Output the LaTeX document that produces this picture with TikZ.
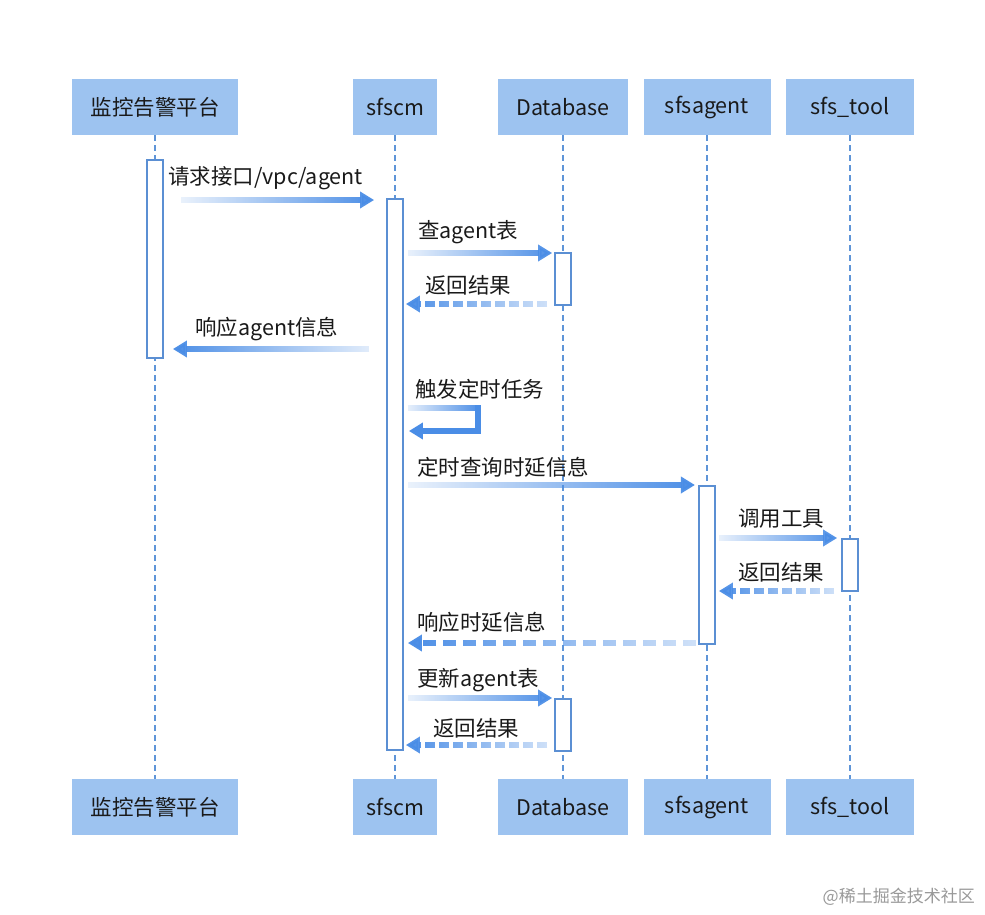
\documentclass[tikz,border=0pt]{standalone}
\usepackage{fontspec}
\setmainfont{Noto Sans CJK SC}
\usetikzlibrary{arrows.meta,fadings,positioning}

\definecolor{boxblue}{HTML}{9DC3F0}
\definecolor{barblue}{HTML}{5B8FD3}
\definecolor{lifeblue}{HTML}{5F95D8}
\definecolor{msgblue}{HTML}{4A8DE6}
\definecolor{textdark}{HTML}{1A1A1A}

\tikzfading[name=fadetoeast, left color=transparent!90, right color=transparent!0]
\tikzfading[name=fadetowest, left color=transparent!0, right color=transparent!85]
\tikzfading[name=fadeback, left color=transparent!0, right color=transparent!75]

% message with some vertical room for the fading
\newcommand{\sendmsg}[3]{%
  \draw[#1] ([yshift=-9pt]#2) ([yshift=9pt]#2) (#2) -- (#3);}

\begin{document}
\begin{tikzpicture}[x=1pt, y=-1pt,
    actor/.style={rectangle, fill=boxblue, minimum height=56pt, inner sep=0pt, text=textdark, font=\fontsize{21.5}{25}\selectfont},
    bar/.style={rectangle, draw=barblue, line width=1.8pt, fill=white, minimum width=16pt, inner sep=0pt, anchor=north},
    life/.style={draw=lifeblue, line width=1.4pt, dash pattern=on 6pt off 4pt},
    msg/.style={draw=msgblue, line width=6pt, -{Triangle[length=14pt,width=16pt]}},
    fwd/.style={msg, path fading=fadetoeast},
    bwd/.style={msg, path fading=fadetowest},
    ret/.style={msg, path fading=fadeback, line width=6.5pt, dash pattern=on 10pt off 4pt},
    lbl/.style={anchor=west, inner sep=0pt, text=textdark, font=\fontsize{21.5}{25}\selectfont},
    ]
    \useasboundingbox[fill=white] (0,0) rectangle (985,915);

    %Actors
    \node[actor, minimum width=166pt] (alarm) at (155,107) {监控告警平台};
    \node[actor, minimum width=84pt]  (sfscm) at (395,107) {sfscm};
    \node[actor, minimum width=130pt] (db)    at (563,107) {Database};
    \node[actor, minimum width=127pt] (agent) at (707,107) {sfsagent};
    \node[actor, minimum width=128pt] (tool)  at (850,107) {sfs\_tool};

    \node[actor, minimum width=166pt] (alarm-b) at (155,807) {监控告警平台};
    \node[actor, minimum width=84pt]  (sfscm-b) at (395,807) {sfscm};
    \node[actor, minimum width=130pt] (db-b)    at (563,807) {Database};
    \node[actor, minimum width=127pt] (agent-b) at (707,807) {sfsagent};
    \node[actor, minimum width=128pt] (tool-b)  at (850,807) {sfs\_tool};

    %Lifelines
    \foreach \a in {alarm,sfscm,db,agent,tool}
        \draw[life] (\a.south) -- (\a-b.north);

    %Activations
    \node[bar, minimum height=198pt] (barA)  at (155,159) {};
    \node[bar, minimum height=551pt] (barB)  at (395,198) {};
    \node[bar, minimum height=52pt]  (barC1) at (563,252) {};
    \node[bar, minimum height=52pt]  (barC2) at (563,698) {};
    \node[bar, minimum height=158pt] (barD)  at (707,485) {};
    \node[bar, minimum height=52pt]  (barE)  at (850,538) {};

    %Message ends
    \coordinate (m1s)  at ([xshift=17pt]barA.east |- 0,200);
    \coordinate (m1e)  at ([xshift=-12pt]barB.west |- 0,200);
    \coordinate (m2s)  at ([xshift=4pt]barB.east |- 0,253);
    \coordinate (m2e)  at ([xshift=-2pt]barC1.west |- 0,253);
    \coordinate (m3s)  at ([xshift=-7pt]barC1.west |- 0,304);
    \coordinate (m3e)  at ([xshift=2pt]barB.east |- 0,304);
    \coordinate (m4s)  at ([xshift=-17pt]barB.west |- 0,349);
    \coordinate (m4e)  at ([xshift=9pt]barA.east |- 0,349);
    \coordinate (m5s)  at ([xshift=4pt]barB.east |- 0,408);
    \coordinate (m5a)  at ([xshift=74pt]barB.east |- 0,408);
    \coordinate (m5e)  at ([xshift=5pt]barB.east |- 0,431);
    \coordinate (m5b)  at (m5a |- m5e);
    \coordinate (m6s)  at ([xshift=4pt]barB.east |- 0,485);
    \coordinate (m6e)  at ([xshift=-3pt]barD.west |- 0,485);
    \coordinate (m7s)  at ([xshift=3pt]barD.east |- 0,538);
    \coordinate (m7e)  at ([xshift=-4pt]barE.west |- 0,538);
    \coordinate (m8s)  at ([xshift=-7pt]barE.west |- 0,591);
    \coordinate (m8e)  at ([xshift=3pt]barD.east |- 0,591);
    \coordinate (m9s)  at ([xshift=-2pt]barD.west |- 0,643);
    \coordinate (m9e)  at ([xshift=4pt]barB.east |- 0,643);
    \coordinate (m10s) at ([xshift=4pt]barB.east |- 0,698);
    \coordinate (m10e) at ([xshift=-2pt]barC2.west |- 0,698);
    \coordinate (m11s) at ([xshift=-7pt]barC2.west |- 0,745);
    \coordinate (m11e) at ([xshift=2pt]barB.east |- 0,745);

    %Messages
    \sendmsg{fwd}{m1s}{m1e}
    \sendmsg{fwd}{m2s}{m2e}
    \sendmsg{ret}{m3s}{m3e}
    \sendmsg{bwd}{m4s}{m4e}
    \draw[draw=msgblue, line width=6pt, path fading=fadetoeast] ([yshift=-9pt]m5s) ([yshift=9pt]m5s) (m5s) -- (m5a);
    \draw[msg, line cap=rect, line join=miter] (m5a) -- (m5b) -- (m5e);
    \sendmsg{fwd}{m6s}{m6e}
    \sendmsg{fwd}{m7s}{m7e}
    \sendmsg{ret}{m8s}{m8e}
    \sendmsg{ret, dash pattern=on 13pt off 7pt}{m9s}{m9e}
    \sendmsg{fwd}{m10s}{m10e}
    \sendmsg{ret}{m11s}{m11e}

    %Labels
    \node[lbl] (t1)  at (168,178) {请求接口/vpc/agent};
    \node[lbl] (t2)  at (418,232) {查agent表};
    \node[lbl] (t3)  at (425,285) {返回结果};
    \node[lbl] (t4)  at (195,329) {响应agent信息};
    \node[lbl] (t5)  at (415,389) {触发定时任务};
    \node[lbl] (t6)  at (417,467) {定时查询时延信息};
    \node[lbl] (t7)  at (738,519) {调用工具};
    \node[lbl] (t8)  at (738,572) {返回结果};
    \node[lbl] (t9)  at (417,622) {响应时延信息};
    \node[lbl] (t10) at (417,680) {更新agent表};
    \node[lbl] (t11) at (433,728) {返回结果};

    \node[anchor=east, inner sep=0pt, text=black!40, font=\fontsize{17}{20}\selectfont] (mark) at (975,897) {@稀土掘金技术社区};
\end{tikzpicture}
\end{document}
